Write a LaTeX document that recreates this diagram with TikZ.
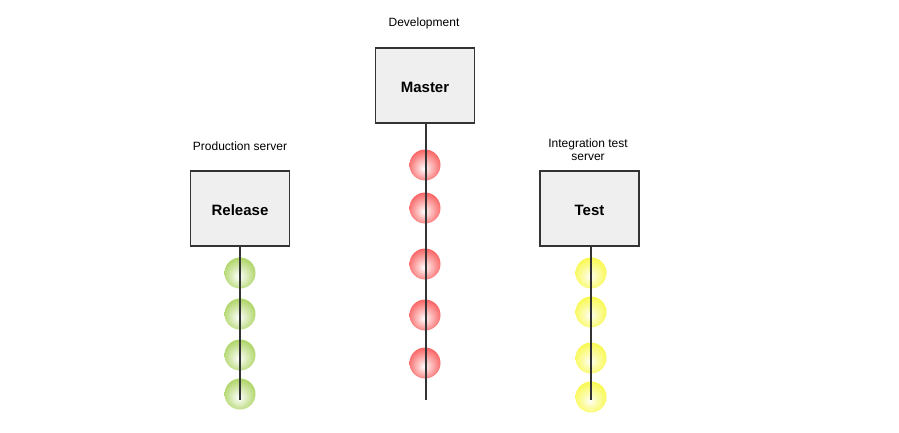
\documentclass[tikz,border=0pt]{standalone}
\usepackage{fontspec}
\setmainfont{Liberation Sans}
\definecolor{rd}{RGB}{248,72,72}
\definecolor{grn}{RGB}{165,208,85}
\definecolor{ylw}{RGB}{248,248,60}
\definecolor{boxfill}{RGB}{239,239,239}
\definecolor{boxline}{RGB}{51,51,51}
\pgfdeclareradialshading{redball}{\pgfpoint{-2bp}{-6bp}}{color(0bp)=(white); color(6bp)=(white!80!rd); color(26bp)=(rd!80!white); color(40bp)=(rd); color(45bp)=(rd); color(47bp)=(rd!50!white); color(50bp)=(white)}
\pgfdeclareradialshading{greenball}{\pgfpoint{-2bp}{-6bp}}{color(0bp)=(white); color(6bp)=(white!80!grn); color(26bp)=(grn!85!white); color(40bp)=(grn); color(45bp)=(grn); color(47bp)=(grn!50!white); color(50bp)=(white)}
\pgfdeclareradialshading{yellowball}{\pgfpoint{-2bp}{-6bp}}{color(0bp)=(white); color(6bp)=(white!75!ylw); color(26bp)=(ylw!85!white); color(40bp)=(ylw); color(45bp)=(ylw); color(47bp)=(ylw!50!white); color(50bp)=(white)}
\tikzset{
  branchbox/.style={draw=boxline, line width=1.8pt, fill=boxfill, minimum width=99pt, minimum height=75pt, inner sep=0pt, text height=14pt, text depth=0pt, font=\bfseries\fontsize{15}{17}\selectfont},
  caption/.style={font=\fontsize{12}{13}\selectfont, align=center},
  ball/.style={circle, minimum size=31pt, inner sep=0pt, draw=none},
  redb/.style={ball, shading=redball},
  greenb/.style={ball, shading=greenball},
  yellowb/.style={ball, shading=yellowball},
  branchline/.style={draw=boxline, line width=1.4pt}
}
\begin{document}
\begin{tikzpicture}[x=1pt,y=-1pt]
\useasboundingbox (0,0) rectangle (899,433);
% boxes
\node[branchbox] (master) at (425,85.5) {Master};
\node[branchbox] (release) at (240,208.5) {Release};
\node[branchbox] (test) at (589.5,208.5) {Test};
% captions
\node[caption] (devlab) at (424,23) {Development};
\node[caption] (prodlab) at (240,146) {Production server};
\node[caption] (intlab) at (588,149.5) {Integration test\\server};
% line ends
\coordinate (mend) at (426,400);
\coordinate (rend) at (240,400);
\coordinate (tend) at (591,400);
% balls
\foreach \y [count=\i] in {165,208,264,315,363} \node[redb] (r\i) at (425,\y) {};
\foreach \y [count=\i] in {273,314,355,394} \node[greenb] (g\i) at (240,\y) {};
\foreach \y [count=\i] in {273,312,358,397} \node[yellowb] (y\i) at (591,\y) {};
% lines
\draw[branchline] (master.south -| mend) -- (mend);
\draw[branchline] (release.south -| rend) -- (rend);
\draw[branchline] (test.south -| tend) -- (tend);
\end{tikzpicture}
\end{document}
